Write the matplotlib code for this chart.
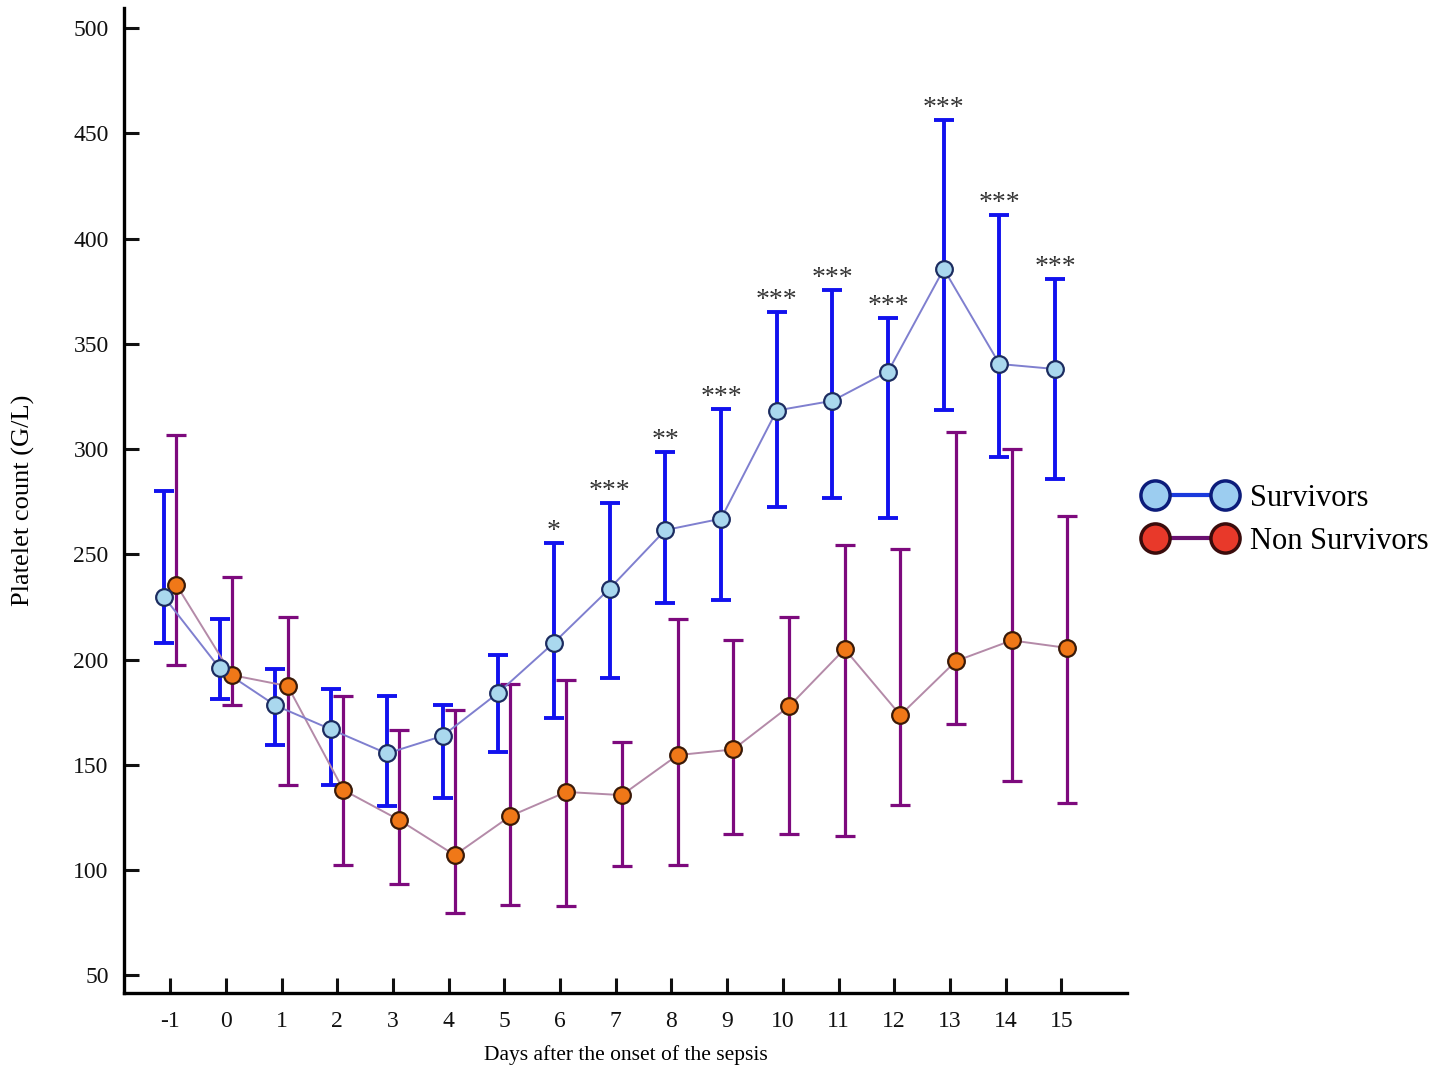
import numpy as np
import matplotlib
matplotlib.use("Agg")
import matplotlib.pyplot as plt
from matplotlib.lines import Line2D

plt.rcParams['font.family'] = ['Liberation Serif', 'DejaVu Serif']

# dias despues del inicio de la sepsis
dias = [-1, 0, 1, 2, 3, 4, 5, 6, 7, 8, 9, 10, 11, 12, 13, 14, 15]

# supervivientes: media, limite inferior, limite superior
surv_media = [229.7, 195.8, 178.2, 166.8, 155.4, 163.7, 184.2, 208.0, 233.7, 261.5, 266.9, 318.3, 322.9, 336.8, 385.5, 340.4, 338.0]
surv_bajo = [208.0, 181.2, 159.4, 140.4, 130.4, 134.2, 155.9, 172.0, 191.1, 226.7, 228.3, 272.6, 276.9, 267.0, 318.5, 296.2, 286.0]
surv_alto = [280.1, 219.1, 195.4, 186.1, 182.5, 178.4, 202.0, 255.2, 274.2, 298.4, 319.0, 365.3, 375.5, 362.3, 456.2, 411.4, 380.8]

# no supervivientes
nosurv_media = [235.5, 192.6, 187.4, 138.0, 123.8, 107.1, 125.7, 137.1, 135.6, 154.6, 157.3, 177.7, 205.0, 173.6, 199.3, 209.1, 205.5]
nosurv_bajo = [197.4, 178.5, 140.4, 102.4, 93.3, 79.6, 83.4, 82.9, 101.9, 102.4, 117.1, 117.1, 116.2, 130.9, 169.4, 142.3, 131.8]
nosurv_alto = [306.7, 239.1, 220.2, 182.5, 166.5, 176.0, 188.4, 190.3, 160.8, 219.1, 209.3, 220.2, 254.4, 252.5, 308.0, 300.0, 268.2]

# significancia
estrellas = ['', '', '', '', '', '', '', '*', '***', '**', '***', '***', '***', '***', '***', '***', '***']

x = np.array(dias, dtype=float)
xs = x - 0.11
xn = x + 0.11

fig = plt.figure(figsize=(14.49, 10.68), dpi=100)
ax = fig.add_axes([124/1449, 1 - 993/1068, (1127 - 124)/1449, (993 - 8)/1068])

sm = np.array(surv_media)
nm = np.array(nosurv_media)
err_s = [sm - np.array(surv_bajo), np.array(surv_alto) - sm]
err_n = [nm - np.array(nosurv_bajo), np.array(nosurv_alto) - nm]

# barras de error
ax.errorbar(xn, nm, yerr=err_n, fmt='none', ecolor='#7d0a7d', elinewidth=2.3,
            capsize=7.5, capthick=2.3, zorder=2)
ax.errorbar(xs, sm, yerr=err_s, fmt='none', ecolor='#1212ee', elinewidth=2.8,
            capsize=7.5, capthick=2.8, zorder=2)

# lineas de las medias
ax.plot(xn, nm, '-', color='#b48aa8', lw=1.4, zorder=3)
ax.plot(xs, sm, '-', color='#7f7fcf', lw=1.4, zorder=3)

# marcadores
ax.plot(xn, nm, 'o', ms=12, mfc='#f07818', mec='#3a1a08', mew=1.6, zorder=4)
ax.plot(xs, sm, 'o', ms=12, mfc='#aad8ee', mec='#1c2c60', mew=1.6, zorder=4)

for xi, yi, s in zip(xs, surv_alto, estrellas):
    if s:
        ax.text(xi, yi - 0.5, s, ha='center', va='bottom', fontsize=20, color='#333333')

ax.set_xlim(-1.83, 16.18)
ax.set_ylim(41.6, 509.5)
ax.set_xticks(dias)
ax.set_xticklabels([str(d) for d in dias])
ax.set_yticks(np.arange(50, 501, 50))

for s in ['top', 'right']:
    ax.spines[s].set_visible(False)
for s in ['left', 'bottom']:
    ax.spines[s].set_linewidth(2.4)
ax.tick_params(direction='in', length=11, width=2.2, labelsize=17, colors='#111111')
ax.tick_params(axis='y', pad=11)
ax.tick_params(axis='x', pad=13)

ax.set_ylabel('Platelet count (G/L)', fontsize=19)
ax.yaxis.set_label_coords(-0.089, 0.5)
ax.set_xlabel('Days after the onset of the sepsis', fontsize=15.5)
ax.xaxis.set_label_coords(0.5, -0.053)

# leyenda
h1 = Line2D([], [], color='#1a3adc', lw=3, marker='o', ms=21, mfc='#9ccdf0', mec='#0c1c7a', mew=2.5)
h2 = Line2D([], [], color='#6a1070', lw=3, marker='o', ms=21, mfc='#e8392a', mec='#3a0c0c', mew=2.5)
fig.legend([h1, h2], ['Survivors', 'Non Survivors'], loc='center left',
           bbox_to_anchor=(1146/1449, 1 - 520/1068), frameon=False, numpoints=2,
           fontsize=22, handlelength=2.9, handletextpad=0.5, labelspacing=0.45,
           borderpad=0, borderaxespad=0)

fig.savefig('out.png', dpi=100)
